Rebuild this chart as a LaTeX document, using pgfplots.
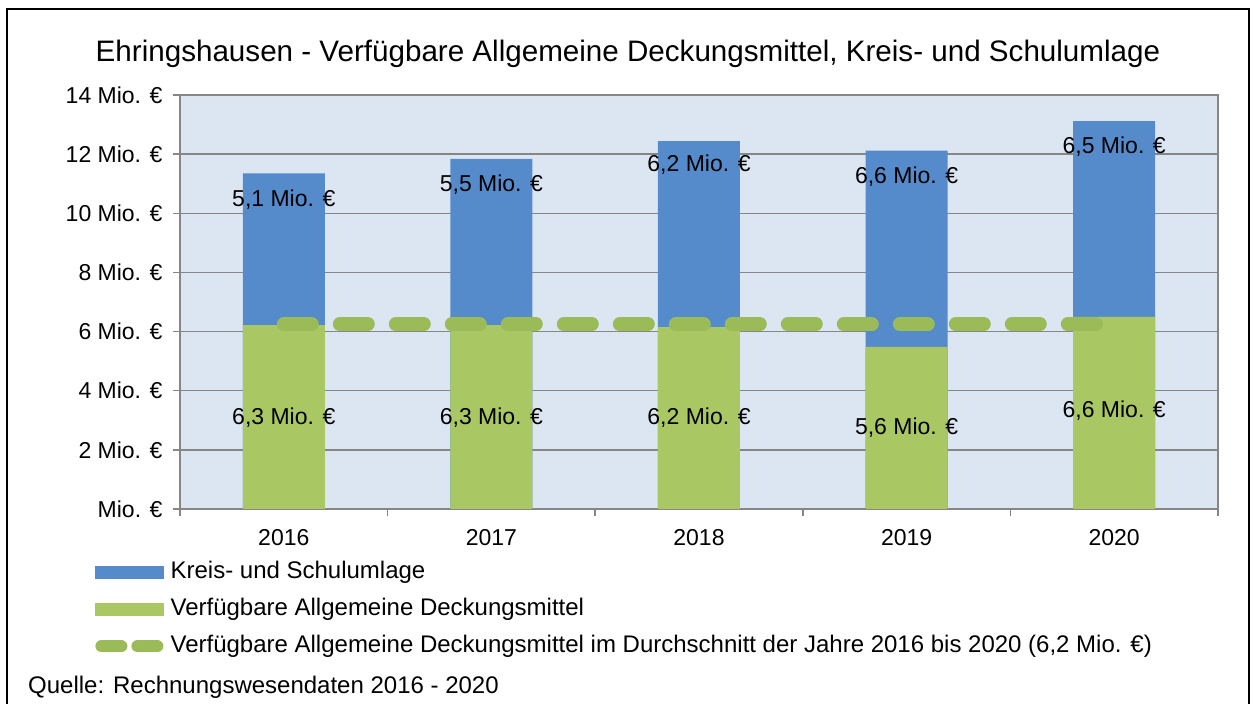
\documentclass[border=0pt]{standalone}
\usepackage{pgfplots}
\pgfplotsset{compat=1.18}
\usepackage{fontspec}
\setmainfont{Liberation Sans}
\definecolor{blueC}{HTML}{558BCB}
\definecolor{greenC}{HTML}{A9C762}
\definecolor{greenD}{HTML}{9BBB59}
\definecolor{bgC}{HTML}{DCE6F2}
\definecolor{gridC}{HTML}{868686}
\newcommand{\fs}{\fontsize{23pt}{27pt}\selectfont}
\newcommand{\fl}{\fontsize{24pt}{28pt}\selectfont}
\begin{document}
\begin{tikzpicture}
\path[use as bounding box] (0pt,0pt) rectangle (1254pt,704pt);
\draw[black, line width=2pt] (7pt,-2pt) -- (7pt,695pt) -- (1249pt,695pt) -- (1249pt,-2pt);
\node[font=\fontsize{29.6pt}{34pt}\selectfont, anchor=base] at (628pt,642pt) {Ehringshausen - Verfügbare Allgemeine Deckungsmittel, Kreis- und Schulumlage};
\node[font=\fl, anchor=base west, inner sep=0pt] at (28pt,10pt) {Quelle: Rechnungswesendaten 2016 - 2020};
\begin{axis}[
 at={(180pt,195pt)}, anchor=south west, width=1038pt, height=414pt, scale only axis,
 xmin=-0.5, xmax=4.5, ymin=0, ymax=14,
 axis background/.style={fill=bgC},
 axis line style={gridC, line width=1.5pt},
 ytick={0,2,...,14}, yticklabels={Mio. €, 2 Mio. €, 4 Mio. €, 6 Mio. €, 8 Mio. €, 10 Mio. €, 12 Mio. €, 14 Mio. €},
 xtick={-0.5,0.5,...,4.5}, xticklabels={2016,2017,2018,2019,2020,}, x tick label as interval,
 xtick pos=bottom, ytick pos=left,
 tick align=outside, major tick length=7pt,
 tick style={gridC, line width=1.5pt},
 ymajorgrids, grid style={gridC, line width=1.5pt},
 tick label style={font=\fs},
 yticklabel style={xshift=-7pt},
 xticklabel style={yshift=-10pt},
 legend style={at={(-0.0819,-0.126)}, anchor=north west, draw=none, fill=none, font=\fl, inner sep=0pt, row sep=15pt, nodes={inner sep=0pt, text height=17pt, text depth=5pt}, cells={anchor=west}},
]
% bar tops: blue = total (Kreis- und Schulumlage on top), green = Verfuegbare Allgemeine Deckungsmittel
\addplot[ybar, bar width=82pt, bar shift=0pt, fill=blueC, draw=none, forget plot] coordinates {(0,11.35) (1,11.84) (2,12.44) (3,12.12) (4,13.12)};
\addplot[ybar, bar width=82pt, bar shift=0pt, fill=greenC, draw=none, forget plot] coordinates {(0,6.22) (1,6.22) (2,6.15) (3,5.48) (4,6.50)};
\addplot[sharp plot, greenD, line width=14pt, line cap=round, dash pattern=on 28pt off 28pt, forget plot] coordinates {(0,6.25) (4,6.25)};
\node[font=\fs] at (axis cs:0,10.45) {5,1 Mio. €};
\node[font=\fs] at (axis cs:1,10.96) {5,5 Mio. €};
\node[font=\fs] at (axis cs:2,11.63) {6,2 Mio. €};
\node[font=\fs] at (axis cs:3,11.23) {6,6 Mio. €};
\node[font=\fs] at (axis cs:4,12.24) {6,5 Mio. €};
\node[font=\fs] at (axis cs:0,3.08) {6,3 Mio. €};
\node[font=\fs] at (axis cs:1,3.08) {6,3 Mio. €};
\node[font=\fs] at (axis cs:2,3.08) {6,2 Mio. €};
\node[font=\fs] at (axis cs:3,2.74) {5,6 Mio. €};
\node[font=\fs] at (axis cs:4,3.31) {6,6 Mio. €};
\addlegendimage{legend image code/.code={\fill[blueC] (0pt,-6pt) rectangle (68pt,6pt); \path (75pt,0pt);}}
\addlegendentry{Kreis- und Schulumlage}
\addlegendimage{legend image code/.code={\fill[greenC] (0pt,-6pt) rectangle (68pt,6pt); \path (75pt,0pt);}}
\addlegendentry{Verfügbare Allgemeine Deckungsmittel}
\addlegendimage{legend image code/.code={\draw[greenD, line width=12pt, line cap=round, dash pattern=on 20pt off 16pt] (6pt,0pt) -- (62pt,0pt); \path (75pt,0pt);}}
\addlegendentry{Verfügbare Allgemeine Deckungsmittel im Durchschnitt der Jahre 2016 bis 2020 (6,2 Mio. €)}
\end{axis}
\end{tikzpicture}
\end{document}
